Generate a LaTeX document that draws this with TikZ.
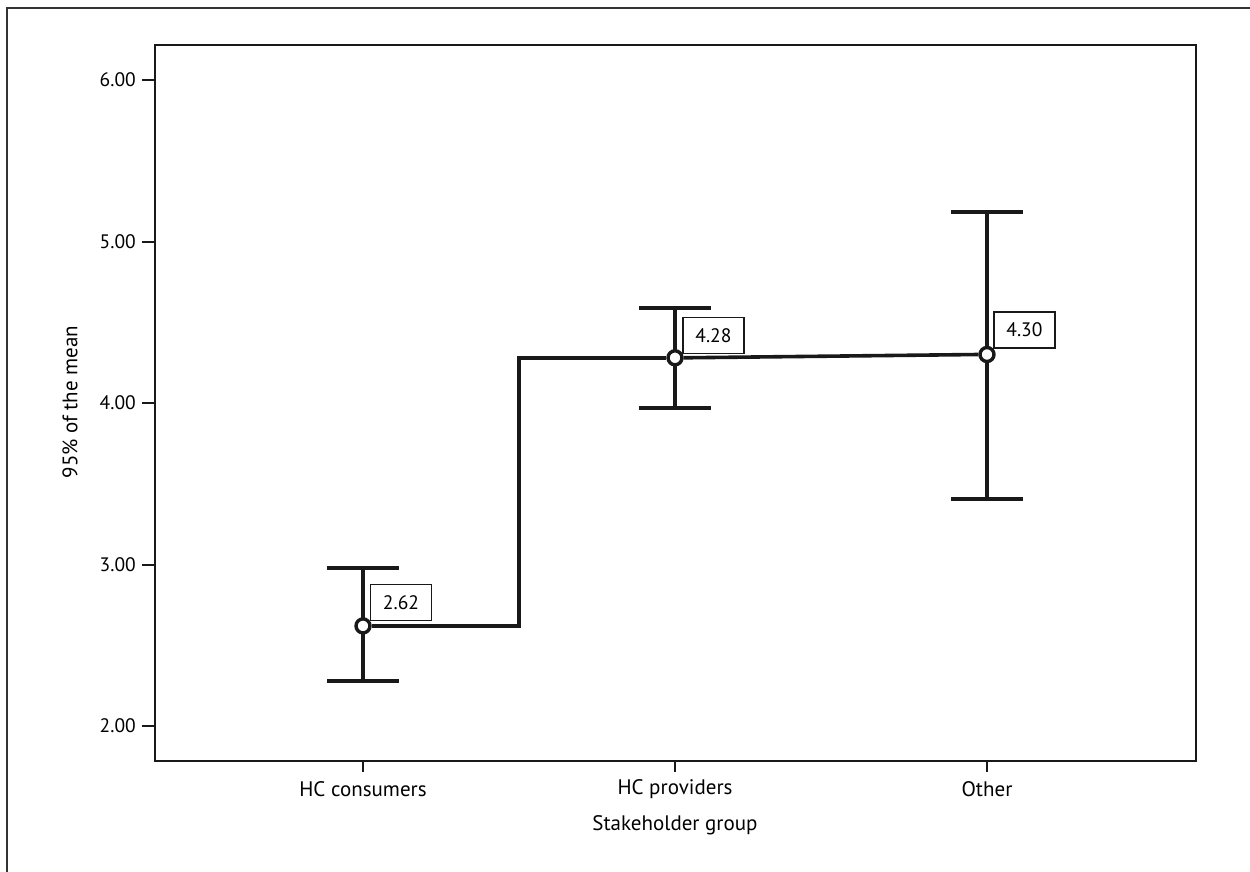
\documentclass[tikz,border=0pt]{standalone}
\usepackage{fontspec}
\setmainfont{PT Sans}
\tikzset{
  frame/.style={draw=black!80, line width=2pt},
  axisbox/.style={draw=black!90, line width=2.2pt},
  tickline/.style={draw=black!90, line width=2pt},
  bar/.style={draw=black!90, line width=3.6pt},
  meanpt/.style={circle, draw=black!90, fill=white, line width=3.4pt, minimum size=14pt, inner sep=0pt},
  valbox/.style={draw=black!90, line width=1.2pt, fill=white, minimum width=61pt, minimum height=36pt, inner sep=0pt, font=\fontsize{19.5}{22}\selectfont},
  ticklab/.style={font=\fontsize{19.5}{22}\selectfont, inner sep=0pt},
  wordlab/.style={font=\fontsize{21}{24}\selectfont, inner sep=0pt},
}
\begin{document}
\begin{tikzpicture}[x=1pt,y=-1pt]
\useasboundingbox (0,0) rectangle (1250,872);
% outer frame
\coordinate (fa) at (1262,8);
\coordinate (fb) at (7,8);
\coordinate (fc) at (7,884);
\draw[frame] (fa) -- (fb) -- (fc);
% axis box
\coordinate (ax1) at (155,45);
\coordinate (ax2) at (1196,761);
\draw[axisbox] (ax1) rectangle (ax2);
% y ticks
\foreach \v/\yy/\i in {6.00/80/a, 5.00/241.5/b, 4.00/403/c, 3.00/564.5/d, 2.00/726/e} {
  \coordinate (yt\i) at (155,\yy);
  \coordinate (ytl\i) at (142,\yy);
  \draw[tickline] (yt\i) -- (ytl\i);
  \node[ticklab, anchor=east] (ylab\i) at (136,\yy) {\v};
}
% x ticks
\foreach \n/\xx/\t in {c/363/HC consumers, p/675/HC providers, o/987/Other} {
  \coordinate (xt\n) at (\xx,761);
  \coordinate (xtb\n) at (\xx,772);
  \draw[tickline] (xt\n) -- (xtb\n);
  \node[wordlab] (xlab\n) at (\xx,789) {\t};
}
\node[wordlab] (xtitle) at (675,825) {Stakeholder group};
\node[wordlab, rotate=90] (ytitle) at (70,402) {95\% of the mean};
% error bars
\foreach \n/\xx/\up/\lo in {c/363/568/681, p/675/308/408, o/987/212/499} {
  \coordinate (u\n) at (\xx,\up);
  \coordinate (l\n) at (\xx,\lo);
  \coordinate (ul\n) at (\xx-36,\up);
  \coordinate (ur\n) at (\xx+36,\up);
  \coordinate (ll\n) at (\xx-36,\lo);
  \coordinate (lr\n) at (\xx+36,\lo);
  \draw[bar] (u\n) -- (l\n);
  \draw[bar] (ul\n) -- (ur\n);
  \draw[bar] (ll\n) -- (lr\n);
}
% step line
\coordinate (s1) at (519,625.9);
\coordinate (s2) at (519,357.8);
\node[meanpt] (mc) at (363,625.9) {};
\node[meanpt] (mp) at (675,357.8) {};
\node[meanpt] (mo) at (987,354.5) {};
\draw[bar, line join=miter] (mc.east) -- (s1) -- (s2) -- (mp.west);
\draw[bar] (mp.east) -- (mo.west);
% value labels
\node[valbox] (vc) at (401,602.7) {2.62};
\node[valbox] (vp) at (713.4,335.2) {4.28};
\node[valbox] (vo) at (1024.4,330) {4.30};
\end{tikzpicture}
\end{document}
